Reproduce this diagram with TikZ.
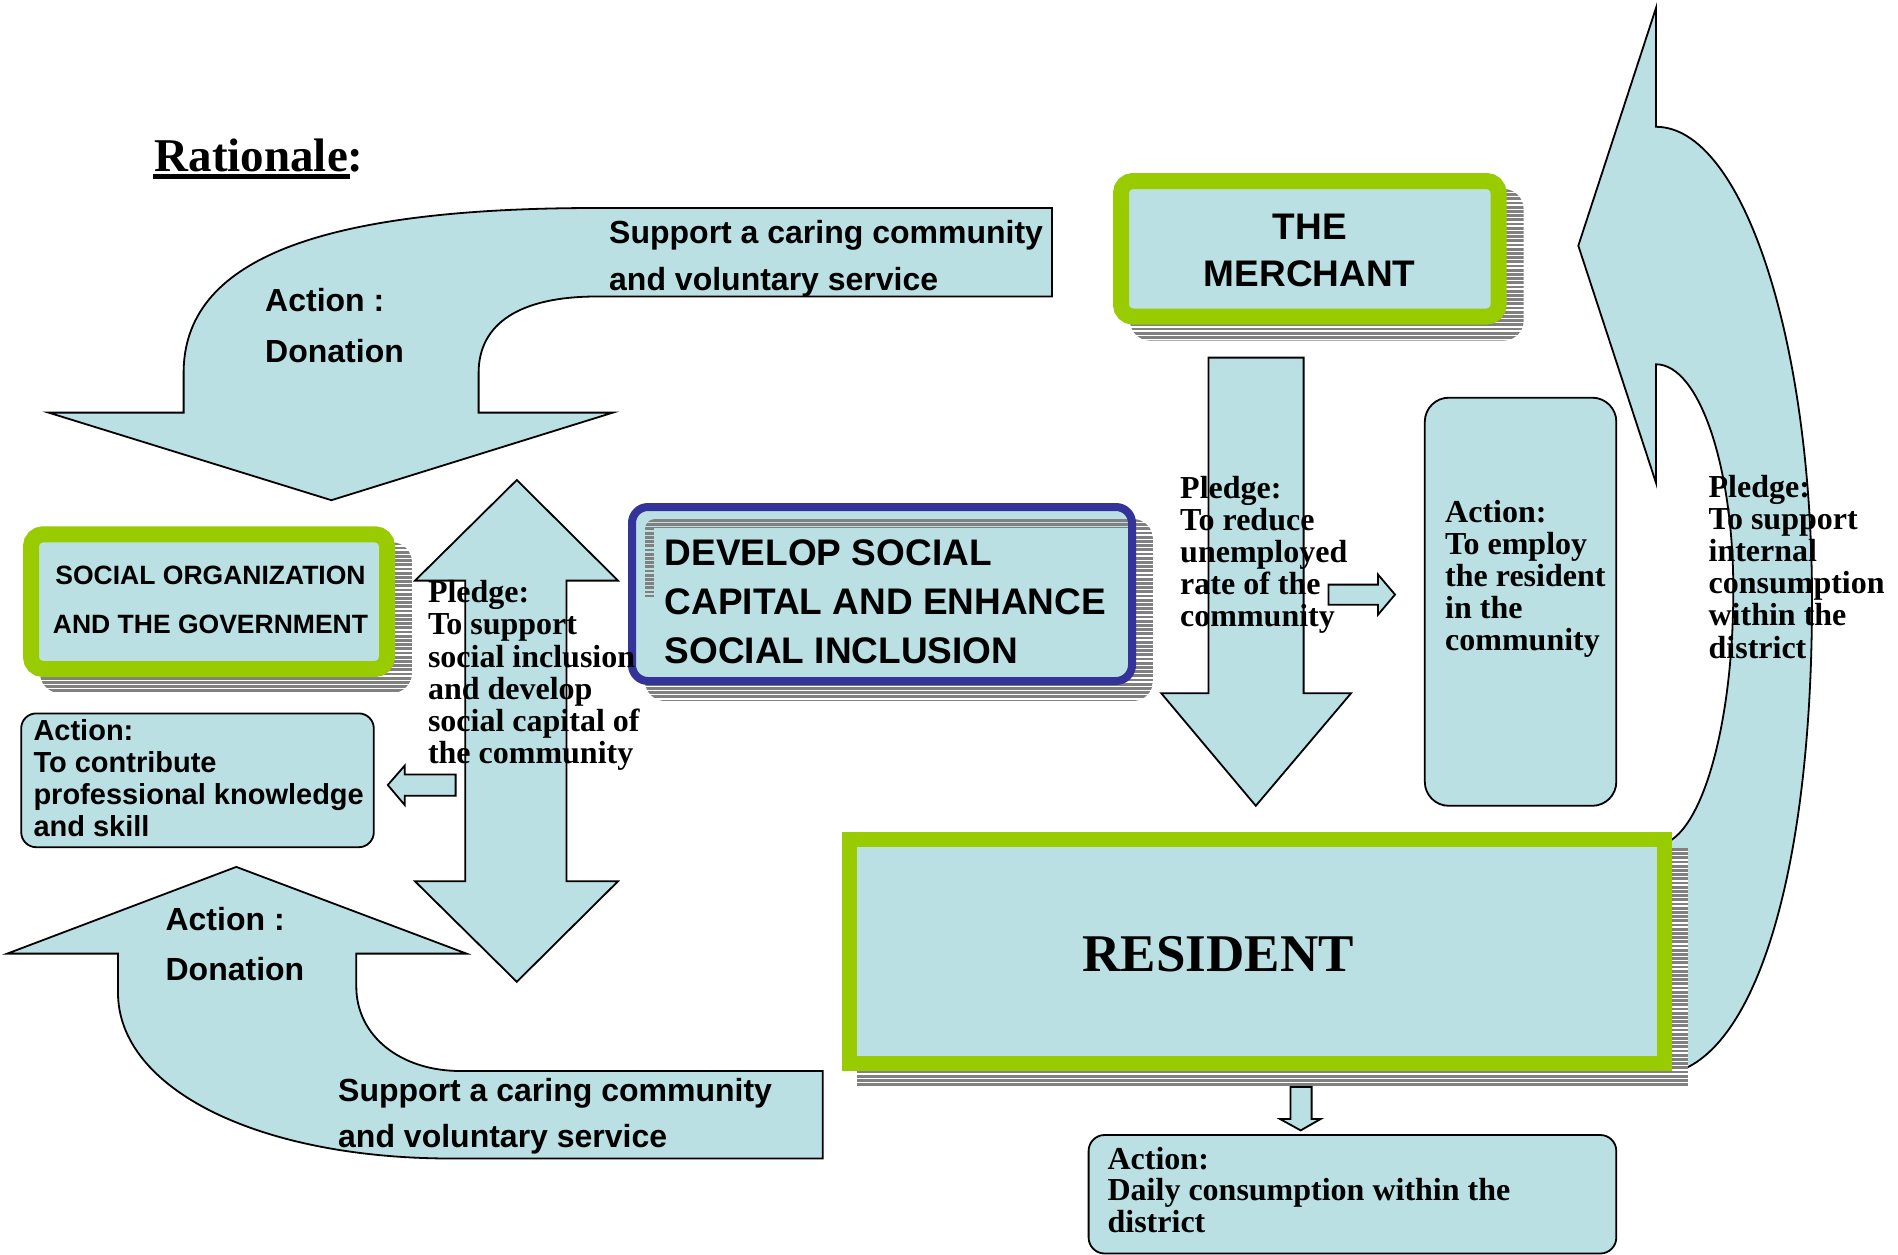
\documentclass[tikz,border=0pt]{standalone}
\usepackage{fontspec}
\setmainfont{Liberation Serif}
\newfontfamily\arial{Liberation Sans}
\definecolor{lb}{RGB}{187,224,227}
\definecolor{grn}{RGB}{153,204,0}
\definecolor{blu}{RGB}{51,51,153}
\definecolor{shg}{RGB}{128,128,128}
% horizontal gray stripes filling the box x1,y1 -- x2,y2 (inside the current clip)
\newcommand\hstripes[4]{%
  \pgfmathtruncatemacro\nst{((#4)-(#2))/4.2}%
  \foreach \k in {0,...,\nst}{\fill[shg] (#1,{#2+4.2*\k}) rectangle (#3,{min(#2+4.2*\k+2.8,#4)});}}
\begin{document}
\begin{tikzpicture}[x=1pt,y=-1pt,
  shapest/.style={fill=lb, draw=black, line width=1.8pt, line join=miter},
  boxst/.style={fill=lb, draw=black, line width=1.8pt},
  arl/.style={font=\arial\bfseries\fontsize{32}{38}\selectfont, anchor=base west, inner sep=0pt},
  tml/.style={font=\bfseries\fontsize{32}{32}\selectfont, anchor=base west, inner sep=0pt}]
\useasboundingbox[fill=white] (0,0) rectangle (1898,1255);

% top-left curved arrow
\path[shapest] (1052,208) -- (1052,296.5) -- (597,296.5)
  .. controls (520,296.5) and (478.6,323.3) .. (478.6,373)
  -- (478.6,412.6) -- (613,412.6) -- (331.4,500.2) -- (48.5,412.6) -- (183.6,412.6) -- (183.6,373)
  .. controls (183.6,260.8) and (315.9,208) .. (597,208) -- cycle;

% bottom-left curved arrow
\path[shapest] (822.8,1071) -- (822.8,1158.5) -- (451.4,1158.5)
  .. controls (258,1158.5) and (118,1088.8) .. (118,992.6)
  -- (118,953.6) -- (7.3,953.6) -- (236.3,866.9) -- (466.5,953.6) -- (356.3,953.6) -- (356.3,986.6)
  .. controls (356.3,1035.6) and (400.1,1071) .. (460.5,1071) -- cycle;

% vertical double arrow
\path[shapest] (516.8,480) -- (618,580.6) -- (566.5,580.6) -- (566.5,881.3) -- (618,881.3)
  -- (516.8,981.8) -- (415,881.3) -- (465.3,881.3) -- (465.3,580.6) -- (415,580.6) -- cycle;

% merchant down arrow
\path[shapest] (1208.5,357.6) -- (1303.6,357.6) -- (1303.6,693.3) -- (1351,693.3)
  -- (1255.8,805.8) -- (1161.3,693.3) -- (1208.5,693.3) -- cycle;

% small right arrow
\path[shapest] (1328.5,584.6) -- (1378,584.6) -- (1378,574.5) -- (1395,594.6) -- (1378,614.7)
  -- (1378,604.7) -- (1328.5,604.7) -- cycle;

% small left arrow
\path[shapest] (455.6,774.5) -- (404.7,774.5) -- (404.7,765.6) -- (387.8,785) -- (404.7,805)
  -- (404.7,795.7) -- (455.6,795.7) -- cycle;

% big right curved arrow
\path[shapest] (1656,7.9) -- (1578.3,245.7) -- (1656,482.9) -- (1656,364.3)
  .. controls (1698.7,364.3) and (1733.3,465.3) .. (1733.3,590)
  .. controls (1733.3,730.8) and (1698.7,845) .. (1656,845)
  -- (1656,1075)
  .. controls (1749.6,1075) and (1812,885) .. (1812,600)
  .. controls (1812,338.7) and (1742.2,126.8) .. (1656,126.8) -- cycle;

% social organization box
\begin{scope}
  \clip[rounded corners=20pt] (40,542.3) rectangle (412,693);
  \fill[white] (40,542.3) rectangle (412,693);
  \hstripes{40}{542.3}{412}{693}
\end{scope}
\path[draw=grn, line width=16pt, fill=lb, rounded corners=12pt] (31,534.3) rectangle (387,669);

% merchant box
\begin{scope}
  \clip[rounded corners=20pt] (1130,189) rectangle (1523.6,340.6);
  \fill[white] (1130,189) rectangle (1523.6,340.6);
  \hstripes{1130}{189}{1523.6}{340.6}
\end{scope}
\path[draw=grn, line width=16pt, fill=lb, rounded corners=12pt] (1121,181) rectangle (1498.6,316.6);

% develop box
\begin{scope}
  \clip[rounded corners=20pt] (645,519) rectangle (1153,701);
  \fill[white] (645,519) rectangle (1153,701);
  \hstripes{645}{519}{1153}{701}
\end{scope}
\path[fill=lb, rounded corners=16pt] (632,507) rectangle (1132,681);
\begin{scope}
  \clip[rounded corners=10pt] (645,519) rectangle (1140,640);
  \hstripes{645}{519}{1140}{527.5}
  \hstripes{645}{527.5}{653.5}{597}
\end{scope}
\path[draw=blu, line width=8pt, rounded corners=16pt] (632,507) rectangle (1132,681);

% resident box
\fill[white] (857,848) rectangle (1687.7,1087);
\hstripes{857}{848}{1687.7}{1087}
\path[draw=grn, line width=15pt, fill=lb, line join=miter] (849.5,839.5) rectangle (1664.5,1063.5);

% small down arrow
\path[shapest] (1290.4,1087) -- (1311.6,1087) -- (1311.6,1119) -- (1320.6,1119) -- (1300.7,1130.4)
  -- (1280,1119) -- (1290.4,1119) -- cycle;

% action boxes
\path[boxst, rounded corners=15pt] (21.2,713.4) rectangle (373.8,847.2);
\path[boxst, rounded corners=24pt] (1424.8,397.7) rectangle (1616.3,805.8);
\path[boxst, rounded corners=16pt] (1088.6,1135) rectangle (1616.3,1253.5);

% title
\node[tml] (rat) at (154.5,171) {\fontsize{47}{50}\selectfont Rationale:};
\fill (153,173.5) rectangle (350,179);

% arrow texts
\node[arl] (t1a) at (265,311) {Action :};
\node[arl] (t1b) at (265,362) {Donation};
\node[arl] (t1c) at (609,243) {Support a caring community};
\node[arl] (t1d) at (609,290) {and voluntary service};
\node[arl] (t2a) at (165.4,930.3) {Action :};
\node[arl] (t2b) at (165.4,980.6) {Donation};
\node[arl] (t2c) at (338,1101) {Support a caring community};
\node[arl] (t2d) at (338,1147) {and voluntary service};

% box texts
\node[arl, anchor=base, font=\arial\bfseries\fontsize{26.5}{30}\selectfont] (so1) at (210.5,584.6) {SOCIAL ORGANIZATION};
\node[arl, anchor=base, font=\arial\bfseries\fontsize{26.5}{30}\selectfont] (so2) at (210.5,633) {AND THE GOVERNMENT};
\node[arl, anchor=base, font=\arial\bfseries\fontsize{37}{40}\selectfont] (me1) at (1309.7,239) {THE};
\node[arl, anchor=base, font=\arial\bfseries\fontsize{37}{40}\selectfont] (me2) at (1309.7,286) {MERCHANT};
\node[arl, font=\arial\bfseries\fontsize{37}{40}\selectfont] (dv1) at (664.6,565) {DEVELOP SOCIAL};
\node[arl, font=\arial\bfseries\fontsize{37}{40}\selectfont] (dv2) at (664.6,614.5) {CAPITAL AND ENHANCE};
\node[arl, font=\arial\bfseries\fontsize{37}{40}\selectfont] (dv3) at (664.6,663) {SOCIAL INCLUSION};
\node[tml, font=\bfseries\fontsize{53}{56}\selectfont] (res) at (1082.5,971.3) {RESIDENT};

\foreach \t [count=\i] in {Action:, To contribute, professional knowledge, and skill}
  \node[arl, font=\arial\bfseries\fontsize{29}{32}\selectfont, name=ac-\i] at (33.3,{740.5+32*(\i-1)}) {\t};
\foreach \t [count=\i] in {Pledge:, To support, social inclusion, and develop, social capital of, the community}
  \node[tml, name=sp-\i] at (427.8,{602.6+32.2*(\i-1)}) {\t};
\foreach \t [count=\i] in {Pledge:, To reduce, unemployed, rate of the, community}
  \node[tml, name=mp-\i] at (1180,{498+32.2*(\i-1)}) {\t};
\foreach \t [count=\i] in {Action:, To employ, the resident, in the, community}
  \node[tml, name=ea-\i] at (1445,{522+32.2*(\i-1)}) {\t};
\foreach \t [count=\i] in {Pledge:, To support, internal, consumption, within the, district}
  \node[tml, name=rp-\i] at (1708.4,{497+32.2*(\i-1)}) {\t};
\foreach \t [count=\i] in {Action:, Daily consumption within the, district}
  \node[tml, name=da-\i] at (1107.4,{1169+31.5*(\i-1)}) {\t};
\end{tikzpicture}
\end{document}
